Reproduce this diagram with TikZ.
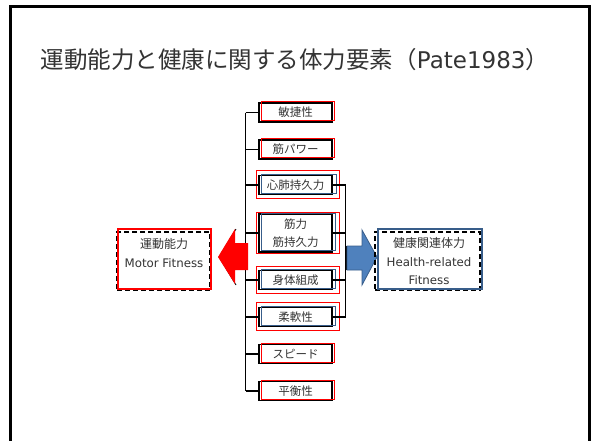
\documentclass[tikz,border=0pt]{standalone}
\usepackage{fontspec}
\setmainfont{Noto Sans CJK JP}
\newfontfamily\latf{DejaVu Sans}
\usetikzlibrary{calc}
\definecolor{txt}{HTML}{333333}
\definecolor{hblue}{HTML}{4F81BD}
\definecolor{hblueb}{HTML}{385D8A}
\begin{document}
\begin{tikzpicture}[x=1pt,y=-1pt,
  item/.style={draw=black, line width=1.6pt, minimum width=73pt, minimum height=19pt,
    inner sep=0pt, align=center, text=txt, font=\fontsize{11.5}{18}\selectfont},
  redbox/.style={draw=red, line width=1pt},
  bluebox/.style={draw=hblueb, line width=1pt},
  link/.style={draw=black, line width=1.2pt},
  fitbox/.style={draw=black, line width=1.8pt, dash pattern=on 5pt off 3pt, inner sep=0pt},
  fittext/.style={align=center, text=txt, inner sep=0pt, font=\fontsize{12}{18.5}\selectfont},
  lat/.style={}]
\useasboundingbox (0,0) rectangle (599,440);
% frame
\draw[line width=3pt] (10.5,441) -- (10.5,6.5) -- (589,6.5) -- (589,441);
% title
\node[text=txt, font=\fontsize{23.5}{26}\selectfont] (title) at (295,60) {運動能力と健康に関する体力要素（{\latf\fontsize{23}{26}\selectfont Pate1983}）};
% items
\node[item] (a1) at (295.5,112.5) {敏捷性};
\node[item] (a2) at (295.5,149.5) {筋パワー};
\node[item] (a3) at (295.5,185) {心肺持久力};
\node[item, minimum height=38pt] (a4) at (295.5,233) {筋力\\筋持久力};
\node[item] (a5) at (295.5,280) {身体組成};
\node[item] (a6) at (295.5,317) {柔軟性};
\node[item] (a7) at (295.5,354) {スピード};
\node[item] (a8) at (295.5,391) {平衡性};
% red outlines
\draw[redbox] (261,101) rectangle (334,120);
\draw[redbox] (261,138) rectangle (334,157);
\draw[redbox] (256.5,170) rectangle (339,198);
\draw[redbox] (256.5,212) rectangle (339,253);
\draw[redbox] (256.5,266) rectangle (339,293);
\draw[redbox] (256.5,302) rectangle (339,330);
\draw[redbox] (261,343) rectangle (334,362);
\draw[redbox] (261,380) rectangle (334,399);
% blue outlines
\draw[bluebox] (261,174) rectangle (336,193);
\draw[bluebox] (261,213) rectangle (335,250);
\draw[bluebox] (261,269) rectangle (335,288);
\draw[bluebox] (261,306) rectangle (335,325);
% left bracket
\coordinate (ltop) at (245.5,112.5);
\coordinate (lbot) at (245.5,391);
\draw[link] (ltop) -- (lbot);
\foreach \i in {1,...,8}{
  \draw[link] (ltop |- a\i.west) -- (a\i.west);
}
% right bracket
\coordinate (rtop) at (345.5,185);
\coordinate (rbot) at (345.5,317);
\draw[link] (rtop) -- (rbot);
\foreach \i in {3,...,6}{
  \draw[link] (a\i.east) -- (rtop |- a\i.east);
}
% red arrow (left)
\draw[black, line width=0.8pt] (219,257) -- (236,229) (219,257) -- (236,285);
\fill[red] (248,243) -- (235,243) -- (235,229) -- (218,257) -- (235,284) -- (235,270) -- (248,270) -- cycle;
% blue arrow (right)
\draw[black, line width=2pt] (346.5,246) -- (346.5,270);
\filldraw[fill=hblue, draw=hblueb, line width=0.8pt] (347,246) -- (362,246) -- (362,230) -- (377,257) -- (362,285) -- (362,270) -- (347,270) -- cycle;
% motor fitness box
\node[fitbox, minimum width=93pt, minimum height=58pt] (motor) at (163.5,261) {};
\draw[redbox, line width=1.2pt] (118,229) rectangle (211,289);
\node[fittext] (mtext) at (164,253) {運動能力\\{\latf\fontsize{11.8}{18.5}\selectfont Motor Fitness}};
% health fitness box
\node[fitbox, minimum width=105pt, minimum height=58pt] (health) at (427.5,261) {};
\draw[bluebox, line width=1.2pt] (378,229) rectangle (482,289);
\node[fittext] (htext) at (429,261.5) {健康関連体力\\{\latf\fontsize{11.8}{18.5}\selectfont Health-related}\\{\latf\fontsize{11.8}{18.5}\selectfont Fitness}};
\end{tikzpicture}
\end{document}
